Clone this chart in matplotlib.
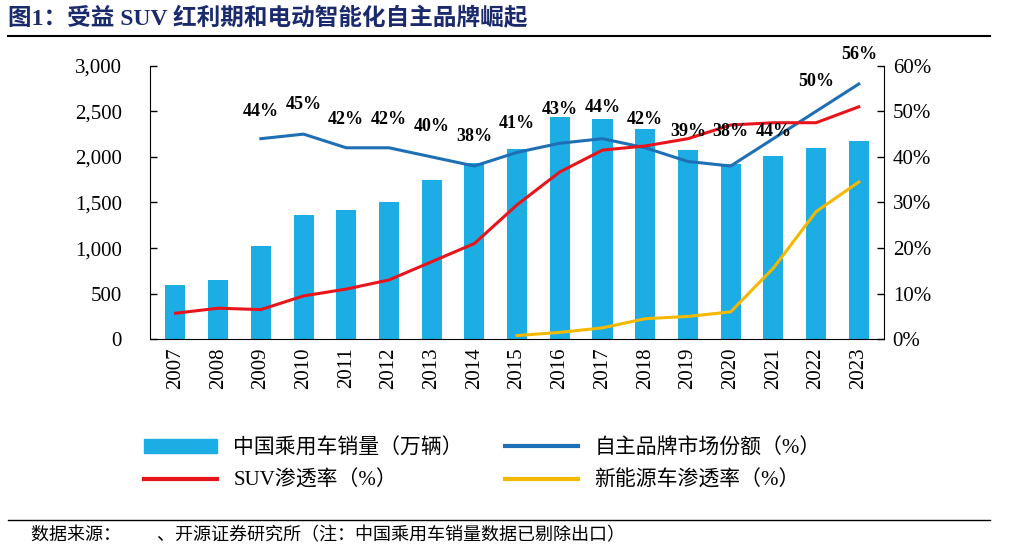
import matplotlib
matplotlib.use("Agg")
import matplotlib.pyplot as plt
from matplotlib.lines import Line2D
from matplotlib.patches import Patch

FAM = ['Liberation Serif', 'Noto Sans CJK SC']
plt.rcParams['font.family'] = FAM

years = [str(y) for y in range(2007, 2024)]
sales = [600, 650, 1020, 1360, 1420, 1500, 1750, 1930, 2090, 2440, 2420, 2310, 2080, 1920, 2010, 2100, 2170]
own_years = years[2:]
own_share = [44, 45, 42, 42, 40, 38, 41, 43, 44, 42, 39, 38, 44, 50, 56]
suv_rate = [5.7, 6.8, 6.5, 9.5, 11, 13, 17, 21, 29.5, 36.7, 41.5, 42.4, 44, 47, 47.5, 47.5, 51]
nev_years = years[8:]
nev_rate = [0.8, 1.5, 2.5, 4.5, 5, 6, 15.6, 28, 34.5]

# label placement (layout only, in right-axis units)
label_y = [49.9, 51.4, 48.1, 48.1, 46.6, 44.4, 47.3, 50.3, 50.8, 48.1, 45.5, 45.5, 45.5, 56.5, 62.4]

fig = plt.figure(figsize=(10.26, 5.48), dpi=100)
ax = fig.add_axes([0.146, 0.381, 0.716, 0.499])
x = list(range(len(years)))
ax.bar(x, sales, width=0.47, color='#1CADE4', zorder=2)
ax.set_ylim(0, 3000)
ax.set_xlim(-0.6, len(years) - 0.4)
ax.set_yticks(range(0, 3001, 500))
ax.set_yticklabels([f"{v:,}" for v in range(0, 3001, 500)], fontsize=15)
ax.set_xticks(x)
ax.set_xticklabels(years, rotation=90, fontsize=15)
ax2 = ax.twinx()
ax2.set_ylim(0, 60)
ax2.set_yticks(range(0, 61, 10))
ax2.set_yticklabels([f"{v}%" for v in range(0, 61, 10)], fontsize=15)
ox = [years.index(y) for y in own_years]
nx = [years.index(y) for y in nev_years]
ax2.plot(ox, own_share, color='#1F6FB5', lw=2.2, zorder=3)
ax2.plot(x, suv_rate, color='#E8141B', lw=2.2, zorder=3)
ax2.plot(nx, nev_rate, color='#F5B800', lw=2.2, zorder=3)
for xi, v, ly in zip(ox, own_share, label_y):
    ax2.text(xi, ly, f"{v}%", ha='center', va='center', fontsize=13, fontweight='bold',
             zorder=5, clip_on=False)
for a in (ax, ax2):
    for s in a.spines.values():
        s.set_visible(False)
    a.tick_params(length=5, width=1)
ax.spines['left'].set_visible(True)
ax.spines['bottom'].set_visible(True)
ax2.spines['right'].set_visible(True)
ax.tick_params(axis='x', length=0, pad=6)
ax.tick_params(axis='y', direction='in', pad=20)
ax2.tick_params(axis='y', direction='in', pad=6)

handles = [Patch(color='#1CADE4'), Line2D([], [], color='#E8141B', lw=3),
           Line2D([], [], color='#1F6FB5', lw=3), Line2D([], [], color='#F5B800', lw=3)]
labels = ['中国乘用车销量（万辆）', 'SUV渗透率（%）', '自主品牌市场份额（%）', '新能源车渗透率（%）']
fig.legend(handles, labels, ncol=2, loc='center', bbox_to_anchor=(0.47, 0.152), frameon=False,
           fontsize=15, columnspacing=2.0, handlelength=3.5, labelspacing=0.6)

fig.text(0.008, 0.965, '图1：受益 SUV 红利期和电动智能化自主品牌崛起', fontsize=17, fontweight='bold',
         color='#1A2A6C', va='center', ha='left')
fig.add_artist(Line2D([0.008, 0.965], [0.935, 0.935], color='black', lw=1.5))
fig.add_artist(Line2D([0.008, 0.965], [0.052, 0.052], color='black', lw=1))
fig.text(0.03, 0.022, '数据来源：        、开源证券研究所（注：中国乘用车销量数据已剔除出口）', fontsize=13, va='center')
fig.savefig('out.png', dpi=100)
